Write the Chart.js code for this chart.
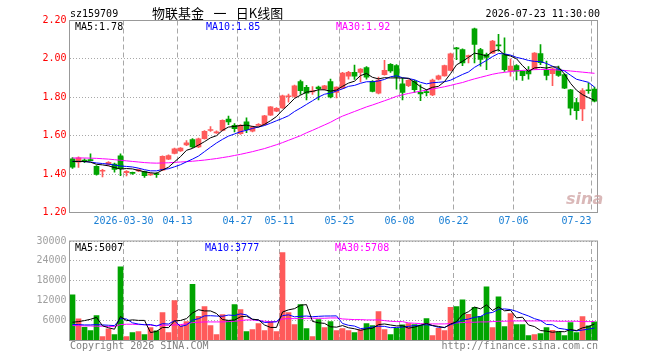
<!DOCTYPE html>
<html><head><meta charset="utf-8">
<script src="https://cdn.jsdelivr.net/npm/chart.js@4.4.1/dist/chart.umd.min.js"></script>
<style>
html,body{margin:0;padding:0;background:#fff;}
#wrap{position:relative;width:660px;height:360px;overflow:hidden;background:#fff;}
canvas{position:absolute;left:0;}
</style></head><body>
<div id="wrap">
<canvas id="pc" width="660" height="232" style="top:0px"></canvas>
<canvas id="vc" width="660" height="128" style="top:232px"></canvas>
</div>
<script>
const dates = ['2026-03-17','2026-03-18','2026-03-19','2026-03-20','2026-03-23','2026-03-24','2026-03-25','2026-03-26','2026-03-27',
'2026-03-30','2026-03-31','2026-04-01','2026-04-02','2026-04-03','2026-04-07','2026-04-08','2026-04-09','2026-04-10',
'2026-04-13','2026-04-14','2026-04-15','2026-04-16','2026-04-17','2026-04-20','2026-04-21','2026-04-22','2026-04-23','2026-04-24',
'2026-04-27','2026-04-28','2026-04-29','2026-04-30','2026-05-06','2026-05-07','2026-05-08',
'2026-05-11','2026-05-12','2026-05-13','2026-05-14','2026-05-15','2026-05-18','2026-05-19','2026-05-20','2026-05-21','2026-05-22',
'2026-05-25','2026-05-26','2026-05-27','2026-05-28','2026-05-29','2026-06-01','2026-06-02','2026-06-03','2026-06-04','2026-06-05',
'2026-06-08','2026-06-09','2026-06-10','2026-06-11','2026-06-12','2026-06-15','2026-06-16','2026-06-17','2026-06-18',
'2026-06-22','2026-06-23','2026-06-24','2026-06-25','2026-06-26','2026-06-29','2026-06-30','2026-07-01','2026-07-02','2026-07-03',
'2026-07-06','2026-07-07','2026-07-08','2026-07-09','2026-07-10','2026-07-13','2026-07-14','2026-07-15','2026-07-16','2026-07-17',
'2026-07-20','2026-07-21','2026-07-22','2026-07-23'];

const open = [1.480,1.462,1.472,1.475,1.440,1.415,1.450,1.452,1.495,1.408,
1.406,1.417,1.413,1.396,1.399,1.421,1.478,1.508,1.521,1.552,
1.580,1.542,1.585,1.627,1.615,1.628,1.686,1.654,1.610,1.672,
1.624,1.654,1.658,1.707,1.728,1.745,1.803,1.805,1.882,1.852,
1.828,1.853,1.842,1.882,1.826,1.848,1.910,1.930,1.930,1.955,
1.883,1.822,1.918,1.972,1.965,1.870,1.860,1.883,1.826,1.826,
1.813,1.895,1.912,1.940,2.056,2.049,2.010,2.157,2.049,2.022,
2.030,2.072,2.023,1.936,1.965,1.935,1.940,1.948,2.028,1.940,
1.923,1.947,1.918,1.839,1.773,1.740,1.838,1.843];
const high = [1.486,1.490,1.480,1.505,1.445,1.425,1.465,1.458,1.505,1.418,
1.410,1.426,1.416,1.405,1.408,1.495,1.500,1.535,1.538,1.575,
1.585,1.588,1.627,1.648,1.625,1.683,1.702,1.663,1.658,1.693,
1.650,1.663,1.706,1.752,1.746,1.812,1.817,1.863,1.890,1.862,
1.856,1.858,1.862,1.895,1.855,1.930,1.935,1.968,1.950,1.960,
1.887,1.905,1.993,1.975,1.970,1.900,1.892,1.890,1.865,1.840,
1.895,1.916,1.968,2.030,2.060,2.052,2.020,2.160,2.055,2.030,
2.097,2.128,2.110,2.000,1.970,1.938,1.960,2.033,2.075,1.988,
1.952,1.962,1.922,1.842,1.795,1.845,1.874,1.853];
const low = [1.430,1.435,1.460,1.470,1.395,1.385,1.445,1.410,1.392,1.390,
1.398,1.413,1.383,1.393,1.383,1.418,1.475,1.505,1.518,1.548,
1.538,1.538,1.582,1.622,1.612,1.625,1.658,1.620,1.607,1.616,
1.620,1.650,1.655,1.705,1.725,1.742,1.775,1.800,1.815,1.786,
1.815,1.787,1.838,1.797,1.797,1.845,1.895,1.893,1.880,1.895,
1.828,1.818,1.915,1.930,1.842,1.787,1.855,1.826,1.783,1.807,
1.808,1.890,1.910,1.937,1.996,1.965,1.979,1.979,1.962,1.944,
2.028,2.040,1.935,1.910,1.890,1.888,1.895,1.945,1.970,1.890,
1.860,1.909,1.845,1.708,1.685,1.678,1.820,1.776];
const close = [1.436,1.485,1.468,1.470,1.398,1.418,1.461,1.425,1.428,1.415,
1.404,1.423,1.392,1.402,1.397,1.492,1.497,1.532,1.535,1.563,
1.542,1.584,1.623,1.632,1.620,1.680,1.672,1.637,1.654,1.632,
1.645,1.659,1.703,1.750,1.743,1.808,1.808,1.860,1.835,1.822,
1.832,1.845,1.860,1.802,1.853,1.926,1.930,1.910,1.947,1.905,
1.830,1.890,1.940,1.938,1.905,1.825,1.888,1.840,1.818,1.824,
1.890,1.912,1.965,2.026,2.052,1.979,2.017,2.075,1.997,2.008,
2.093,2.068,1.944,1.962,1.936,1.913,1.922,2.030,1.980,1.914,
1.948,1.914,1.848,1.743,1.730,1.835,1.834,1.780];

const ma5 = [1.466,1.466,1.466,1.462,1.451,1.448,1.443,1.434,1.426,1.429,
1.427,1.419,1.412,1.407,1.404,1.421,1.436,1.464,1.491,1.524,
1.534,1.551,1.569,1.589,1.600,1.628,1.645,1.648,1.653,1.655,
1.648,1.645,1.659,1.678,1.700,1.733,1.762,1.794,1.811,1.827,
1.831,1.839,1.839,1.832,1.838,1.857,1.874,1.884,1.913,1.924,
1.904,1.896,1.902,1.901,1.901,1.900,1.899,1.879,1.855,1.839,
1.852,1.857,1.882,1.923,1.969,1.987,2.008,2.030,2.024,2.015,
2.038,2.048,2.022,2.015,2.001,1.965,1.935,1.953,1.956,1.952,
1.959,1.957,1.921,1.873,1.837,1.814,1.798,1.784];
const ma10 = [1.466,1.466,1.465,1.463,1.458,1.455,1.452,1.447,1.442,1.440,
1.437,1.431,1.423,1.417,1.417,1.424,1.428,1.438,1.449,1.464,
1.478,1.494,1.517,1.540,1.562,1.581,1.598,1.609,1.621,1.628,
1.638,1.645,1.653,1.665,1.678,1.690,1.704,1.726,1.744,1.763,
1.782,1.801,1.816,1.822,1.833,1.844,1.857,1.862,1.873,1.881,
1.881,1.885,1.893,1.907,1.912,1.902,1.898,1.891,1.878,1.870,
1.876,1.878,1.881,1.889,1.904,1.919,1.932,1.956,1.974,1.992,
2.012,2.028,2.026,2.020,2.008,2.001,1.992,1.987,1.986,1.976,
1.962,1.946,1.937,1.915,1.894,1.886,1.878,1.853];
const ma30 = [1.484,1.484,1.484,1.483,1.482,1.480,1.478,1.475,1.472,1.469,
1.466,1.463,1.460,1.458,1.457,1.458,1.459,1.461,1.463,1.465,
1.467,1.470,1.473,1.477,1.481,1.486,1.491,1.497,1.503,1.510,
1.517,1.525,1.533,1.543,1.553,1.564,1.576,1.588,1.600,1.615,
1.628,1.642,1.656,1.670,1.687,1.702,1.714,1.726,1.738,1.750,
1.760,1.771,1.782,1.793,1.805,1.813,1.820,1.826,1.832,1.837,
1.843,1.849,1.855,1.862,1.870,1.877,1.887,1.896,1.904,1.912,
1.920,1.926,1.930,1.934,1.938,1.940,1.942,1.944,1.945,1.945,
1.944,1.942,1.940,1.937,1.934,1.931,1.928,1.925];

const volume = [13800,6500,4000,3000,7500,1200,3500,1800,22200,1200,
2400,2700,1800,3900,2900,8400,2400,12000,4500,5700,
16900,7300,10200,4500,1800,7800,6000,10800,9300,2700,
3300,5100,3000,5600,2700,26500,8400,4800,10800,3600,
1200,6300,3900,5700,3000,3600,3000,2400,3300,5100,
4500,8700,3300,1800,3700,4700,5100,4800,4600,6600,
1500,3700,3000,10000,10200,12300,7900,10000,7300,16200,
3900,13200,4200,8100,4800,4800,1500,1800,2100,3900,
3100,2600,1500,5400,2400,7200,4400,5650];
const vma5 = [5500,5700,6000,6400,6960,4440,3840,3400,7240,5980,
6220,6060,6060,2400,2740,3940,3880,5920,6040,6600,
8300,9280,8920,8920,8140,6320,6060,6180,7140,7320,
6420,6240,4680,3940,3940,8580,9240,9600,10640,10820,
5760,5340,5160,4140,4020,4500,3840,3540,3060,3480,
3660,4800,4980,4680,4400,4440,3720,4020,4580,5160,
4520,4240,3880,4960,5680,7840,8680,10080,9540,10740,
9060,10120,8960,9120,6840,7020,4680,4200,3000,2820,
2480,2700,2640,3300,3000,3820,4180,5007];
const vma10 = [4800,4800,4700,4700,4800,4700,4600,4500,6600,6470,
5330,4950,4730,4820,4360,5080,4970,5990,4220,4670,
6120,6580,7420,7480,7370,7310,7670,7550,8030,7730,
6370,6150,5430,5540,5630,7500,7740,7140,7290,7380,
7170,7290,7380,7390,7420,5130,4590,4350,3600,3750,
4080,4320,4260,3870,3940,4050,4260,4500,4630,4780,
4480,3980,3950,4770,5420,6180,6460,6980,7250,8210,
8450,9400,9520,9330,8790,8040,7400,6580,6060,4830,
4750,3690,3420,3150,2910,3150,3440,3777];
const vma30 = [4500,4500,4400,4400,4300,4300,4200,4200,4800,4900,
4900,4800,4800,4600,4500,4600,4600,4700,4800,5000,
5400,5500,5600,5600,5600,5600,5700,5800,6000,6200,
6200,6000,5800,5700,5700,6500,6600,6600,6600,6700,
6700,6700,6700,6800,6800,6500,6400,6300,6300,6200,
6200,6200,6000,5800,5700,5700,5300,5200,5100,5000,
5000,5000,5000,5100,5300,5400,5500,5500,5600,5600,
5700,5800,5800,5900,5900,5900,5900,5900,5900,5900,
5900,5800,5800,5800,5800,5700,5700,5708];

const tickDates = ['2026-03-30','2026-04-13','2026-04-27','2026-05-11','2026-05-25','2026-06-08','2026-06-22','2026-07-06','2026-07-23'];
const tickText  = ['2026-03-30','04-13','04-27','05-11','05-25','06-08','06-22','07-06','07-23'];
const priceTicks = [1.20,1.40,1.60,1.80,2.00,2.20];
const volTicks = [0,6000,12000,18000,24000,30000];

const RED = '#ff5a5a', GREEN = '#00a400';
const MONO = '"DejaVu Sans Mono", "Liberation Mono", monospace';
const GRID = '#a8a8a8';
const colors = close.map((c, i) => c >= open[i] ? RED : GREEN);
const tickIdx = tickDates.map(d => dates.indexOf(d));

function xScale(showLabels) {
  return {
    type: 'category', offset: true,
    grid: { offset: true, drawTicks: false, lineWidth: 1,
      color: c => tickIdx.includes(c.index) ? GRID : 'rgba(0,0,0,0)' },
    border: { display: false, dash: [5, 3] },
    ticks: { display: showLabels, autoSkip: false, maxRotation: 0, minRotation: 0,
      labelOffset: -3, padding: 3, color: '#1a7fd4', font: { family: MONO, size: 10 },
      callback: (v, i) => {
        const k = tickIdx.indexOf(i);
        if (k < 0) return '';
        return k === tickIdx.length - 1 ? tickText[k] + '\u00a0'.repeat(5) : tickText[k];
      } },
    afterFit: s => { s.height = 19.5; }
  };
}
const frame = { id: 'frame', afterDraw(chart) {
  const { ctx, chartArea: a } = chart;
  ctx.save(); ctx.strokeStyle = '#999999'; ctx.lineWidth = 1;
  ctx.strokeRect(a.left, a.top, a.right - a.left, a.bottom - a.top);
  const texts = chart.options.plugins.texts || [];
  texts.forEach(t => {
    ctx.font = t.font || ('10px ' + MONO);
    ctx.fillStyle = t.color || '#000';
    ctx.textAlign = t.align || 'left';
    ctx.textBaseline = 'alphabetic';
    ctx.fillText(t.text, t.x, t.y);
  });
  ctx.restore();
} };

const lineDs = (data, color) => ({ type: 'line', data, borderColor: color, borderWidth: 1,
  pointRadius: 0, tension: 0, fill: false, order: 1 });

new Chart(document.getElementById('pc'), {
  type: 'bar',
  data: { labels: dates, datasets: [
    { type: 'bar', data: low.map((l, i) => [l, high[i]]), backgroundColor: colors,
      barThickness: 1, grouped: false, borderWidth: 0, order: 3 },
    { type: 'bar', data: open.map((o, i) => [o, close[i]]), backgroundColor: colors,
      barThickness: 5, grouped: false, borderWidth: 0, minBarLength: 1, order: 2 },
    lineDs(ma5, '#000000'), lineDs(ma10, '#0000ff'), lineDs(ma30, '#ff00ff')
  ] },
  options: {
    responsive: false, animation: false, devicePixelRatio: 1, events: [],
    layout: { padding: { left: 0, top: 20.5, right: 62.5, bottom: 0 } },
    plugins: { legend: { display: false }, tooltip: { enabled: false },
      texts: [
        { text: 'sz159709', x: 70, y: 17 },
        { text: '物联基金\u2002 一\u2002 日K线图', x: 152, y: 18, font: '13px "Noto Sans CJK SC"' },
        { text: '2026-07-23 11:30:00', x: 600, y: 17, align: 'right' },
        { text: 'MA5:1.78', x: 75, y: 30 },
        { text: 'MA10:1.85', x: 206, y: 30, color: '#0000ff' },
        { text: 'MA30:1.92', x: 336, y: 30, color: '#ff00ff' },
        { text: 'sina', x: 566, y: 204, color: 'rgba(205,160,160,0.75)', font: 'italic bold 16px "DejaVu Sans"' }
      ] },
    scales: {
      x: xScale(true),
      y: { min: 1.2, max: 2.2, afterBuildTicks: s => { s.ticks = priceTicks.map(v => ({ value: v })); },
        ticks: { color: '#ff0000', padding: 3, font: { family: MONO, size: 10 }, callback: v => Number(v).toFixed(2) },
        grid: { color: GRID, drawTicks: false, lineWidth: 1 },
        border: { display: false, dash: [1, 2] },
        afterFit: s => { s.width = 69.5; } }
    }
  },
  plugins: [frame]
});

new Chart(document.getElementById('vc'), {
  type: 'bar',
  data: { labels: dates, datasets: [
    { type: 'bar', data: volume, backgroundColor: colors, barThickness: 5, grouped: false, borderWidth: 0, order: 2 },
    lineDs(vma5, '#000000'), lineDs(vma10, '#0000ff'), lineDs(vma30, '#ff00ff')
  ] },
  options: {
    responsive: false, animation: false, devicePixelRatio: 1, events: [],
    layout: { padding: { left: 0, top: 7.5, right: 62.5, bottom: 0 } },
    plugins: { legend: { display: false }, tooltip: { enabled: false },
      texts: [
        { text: 'MA5:5007', x: 75, y: 19 },
        { text: 'MA10:3777', x: 205, y: 19, color: '#0000ff' },
        { text: 'MA30:5708', x: 335, y: 19, color: '#ff00ff' },
        { text: 'Copyright 2026 SINA.COM', x: 70, y: 117, color: '#808080' },
        { text: 'http://finance.sina.com.cn', x: 598, y: 117, color: '#808080', align: 'right' }
      ] },
    scales: {
      x: xScale(false),
      y: { min: 0, max: 30000, afterBuildTicks: s => { s.ticks = volTicks.map(v => ({ value: v })); },
        ticks: { color: '#a0a0a0', padding: 3, font: { family: MONO, size: 10 }, callback: v => v === 0 ? '' : String(v) },
        grid: { color: GRID, drawTicks: false, lineWidth: 1 },
        border: { display: false, dash: [1, 2] },
        afterFit: s => { s.width = 69.5; } }
    }
  },
  plugins: [frame]
});
</script>
</body></html>
